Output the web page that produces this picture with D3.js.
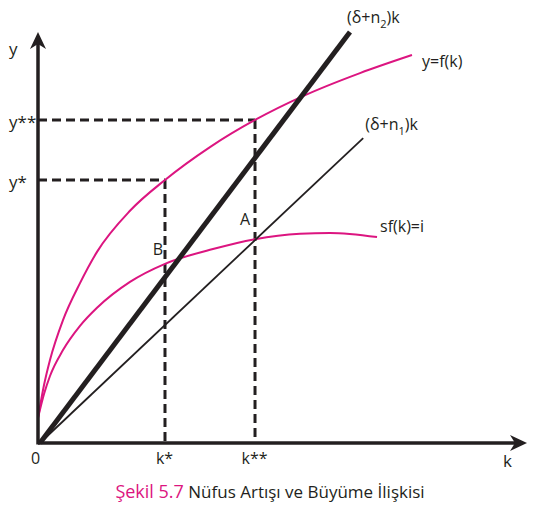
<!DOCTYPE html>
<html>
<head>
<meta charset="utf-8">
<script src="https://cdn.jsdelivr.net/npm/d3@7"></script>
<style>
  body { margin: 0; background: #fff; }
  text { font-family: 'Open Sans', sans-serif; fill: #231f20; }
</style>
</head>
<body>
<svg width="540" height="508"></svg>
<script>
// values (k and y in arbitrary units)
const fK = [0, 0.123, 0.245, 0.511, 0.859, 1.207, 1.881, 2.597, 3.517, 4.438, 5.419, 6.585, 7.648];
const fY = [0.61, 1.41, 2.02, 2.99, 3.89, 4.65, 5.65, 6.4, 7.2, 7.86, 8.44, 9.0, 9.44];
const sfK = [0, 0.123, 0.245, 0.511, 0.859, 1.207, 1.881, 2.597, 3.517, 4.438, 5.358, 5.971, 6.933];
const sfY = [0.61, 1.19, 1.63, 2.26, 2.85, 3.29, 3.92, 4.36, 4.7, 4.96, 5.09, 5.11, 5.01];
const n2Line = [[0.04, 0], [6.38, 10]];
const n1Line = [[0.04, 0], [6.65, 7.42]];
const kTicks = [0, 2.597, 4.438];
const kLabels = ['0', 'k*', 'k**'];
const yTicks = [6.4, 7.86];
const yLabels = ['y*', 'y**'];

const magenta = '#dc1580';
const ink = '#231f20';

const svg = d3.select('svg');

const xScale = d3.scaleLinear().domain([0, 10]).range([38, 527]);
const yScale = d3.scaleLinear().domain([0, 10]).range([443, 32]);

const line = d3.line()
  .x(d => xScale(d[0]))
  .y(d => yScale(d[1]));

// dashed guides
svg.append('g')
  .selectAll('line.vguide')
  .data([[kTicks[1], yTicks[0]], [kTicks[2], yTicks[1]]])
  .enter()
  .append('line')
  .attr('x1', d => xScale(d[0]))
  .attr('x2', d => xScale(d[0]))
  .attr('y1', d => yScale(d[1]))
  .attr('y2', yScale(0))
  .style('stroke', ink)
  .style('stroke-width', 3)
  .style('stroke-dasharray', '9,5');

svg.append('g')
  .selectAll('line.hguide')
  .data([[kTicks[1], yTicks[0]], [kTicks[2], yTicks[1]]])
  .enter()
  .append('line')
  .attr('x1', xScale(0))
  .attr('x2', d => xScale(d[0]))
  .attr('y1', d => yScale(d[1]))
  .attr('y2', d => yScale(d[1]))
  .style('stroke', ink)
  .style('stroke-width', 3)
  .style('stroke-dasharray', '9,5');

// curves
const curve = d3.line()
  .x(d => xScale(d[0]))
  .y(d => yScale(d[1]))
  .curve(d3.curveMonotoneX);

svg.append('path')
  .datum(d3.zip(fK, fY))
  .attr('d', curve)
  .style('fill', 'none')
  .style('stroke', magenta)
  .style('stroke-width', 2);

svg.append('path')
  .datum(d3.zip(sfK, sfY))
  .attr('d', curve)
  .style('fill', 'none')
  .style('stroke', magenta)
  .style('stroke-width', 2);

// (δ+n)k lines
svg.append('path')
  .datum(n1Line)
  .attr('d', line)
  .style('stroke', ink)
  .style('stroke-width', 1.8);

svg.append('path')
  .datum(n2Line)
  .attr('d', line)
  .style('stroke', ink)
  .style('stroke-width', 5);

// axes
const xAxis = d3.axisBottom(xScale)
  .tickValues(kTicks)
  .tickSize(0)
  .tickPadding(10)
  .tickFormat((d, i) => kLabels[i]);

const xAxisG = svg.append('g')
  .attr('transform', 'translate(0,' + yScale(0) + ')')
  .call(xAxis);
xAxisG.select('.domain').remove();
xAxisG.selectAll('text')
  .attr('dx', (d, i) => (i === 0 ? -3 : -1))
  .style('font-size', '16px')
  .style('font-family', "'Open Sans', sans-serif")
  .style('fill', ink);

const yAxis = d3.axisLeft(yScale)
  .tickValues(yTicks)
  .tickSize(0)
  .tickFormat((d, i) => yLabels[i]);

const yAxisG = svg.append('g')
  .attr('transform', 'translate(' + xScale(0) + ',0)')
  .call(yAxis);
yAxisG.select('.domain').remove();
yAxisG.selectAll('text')
  .attr('text-anchor', 'start')
  .attr('x', 9 - xScale(0))
  .attr('dy', '0.45em')
  .style('font-size', '17px')
  .style('font-family', "'Open Sans', sans-serif")
  .style('fill', ink);

svg.append('line')
  .attr('x1', xScale(0))
  .attr('x2', xScale(10) - 10)
  .attr('y1', yScale(0))
  .attr('y2', yScale(0))
  .style('stroke', ink)
  .style('stroke-width', 3.5);

svg.append('line')
  .attr('x1', xScale(0))
  .attr('x2', xScale(0))
  .attr('y1', yScale(0) + 1.5)
  .attr('y2', yScale(10) + 10)
  .style('stroke', ink)
  .style('stroke-width', 3.5);

// arrow heads
const xt = [xScale(10), yScale(0)];
svg.append('path')
  .attr('d', 'M' + xt[0] + ',' + xt[1] +
    'L' + (xt[0] - 17) + ',' + (xt[1] - 8) +
    'L' + (xt[0] - 12) + ',' + xt[1] +
    'L' + (xt[0] - 17) + ',' + (xt[1] + 8) + 'Z')
  .style('fill', ink);

const yt = [xScale(0), yScale(10)];
svg.append('path')
  .attr('d', 'M' + yt[0] + ',' + yt[1] +
    'L' + (yt[0] - 8) + ',' + (yt[1] + 17) +
    'L' + yt[0] + ',' + (yt[1] + 12) +
    'L' + (yt[0] + 8) + ',' + (yt[1] + 17) + 'Z')
  .style('fill', ink);

// axis titles
svg.append('text')
  .attr('x', 9)
  .attr('y', 55)
  .style('font-size', '17px')
  .text('y');

svg.append('text')
  .attr('x', xScale(10) - 24)
  .attr('y', yScale(0) + 24)
  .style('font-size', '17px')
  .text('k');

// line labels
function deltaLabel(x, y, sub) {
  const t = svg.append('text')
    .attr('x', x)
    .attr('y', y)
    .style('font-size', '16px');
  t.append('tspan').text('(δ+n');
  t.append('tspan').attr('dy', 5).style('font-size', '11px').text(sub);
  t.append('tspan').attr('dy', -5).text(')k');
}
deltaLabel(xScale(n2Line[1][0]) - 3, yScale(n2Line[1][1]) - 9, '2');
deltaLabel(xScale(n1Line[1][0]) + 2, yScale(n1Line[1][1]) - 8, '1');

svg.append('text')
  .attr('x', xScale(fK[fK.length - 1]) + 10)
  .attr('y', yScale(fY[fY.length - 1]) + 12)
  .style('font-size', '16px')
  .text('y=f(k)');

svg.append('text')
  .attr('x', xScale(sfK[sfK.length - 1]) + 3)
  .attr('y', yScale(sfY[sfY.length - 1]) - 5)
  .style('font-size', '16px')
  .text('sf(k)=i');

// points A and B
svg.append('text')
  .attr('x', xScale(kTicks[2]) - 10)
  .attr('y', yScale(sfY[9]) - 14)
  .attr('text-anchor', 'middle')
  .style('font-size', '16px')
  .text('A');

svg.append('text')
  .attr('x', xScale(kTicks[1]) - 7)
  .attr('y', yScale(sfY[7]) - 9)
  .attr('text-anchor', 'middle')
  .style('font-size', '16px')
  .text('B');

// caption
const cap = svg.append('text')
  .attr('x', 270)
  .attr('y', 498)
  .attr('text-anchor', 'middle')
  .style('font-size', '17px');
cap.append('tspan')
  .style('fill', magenta)
  .style('font-size', '18px')
  .text('Şekil 5.7');
cap.append('tspan').text(' Nüfus Artışı ve Büyüme İlişkisi');
</script>
</body>
</html>
